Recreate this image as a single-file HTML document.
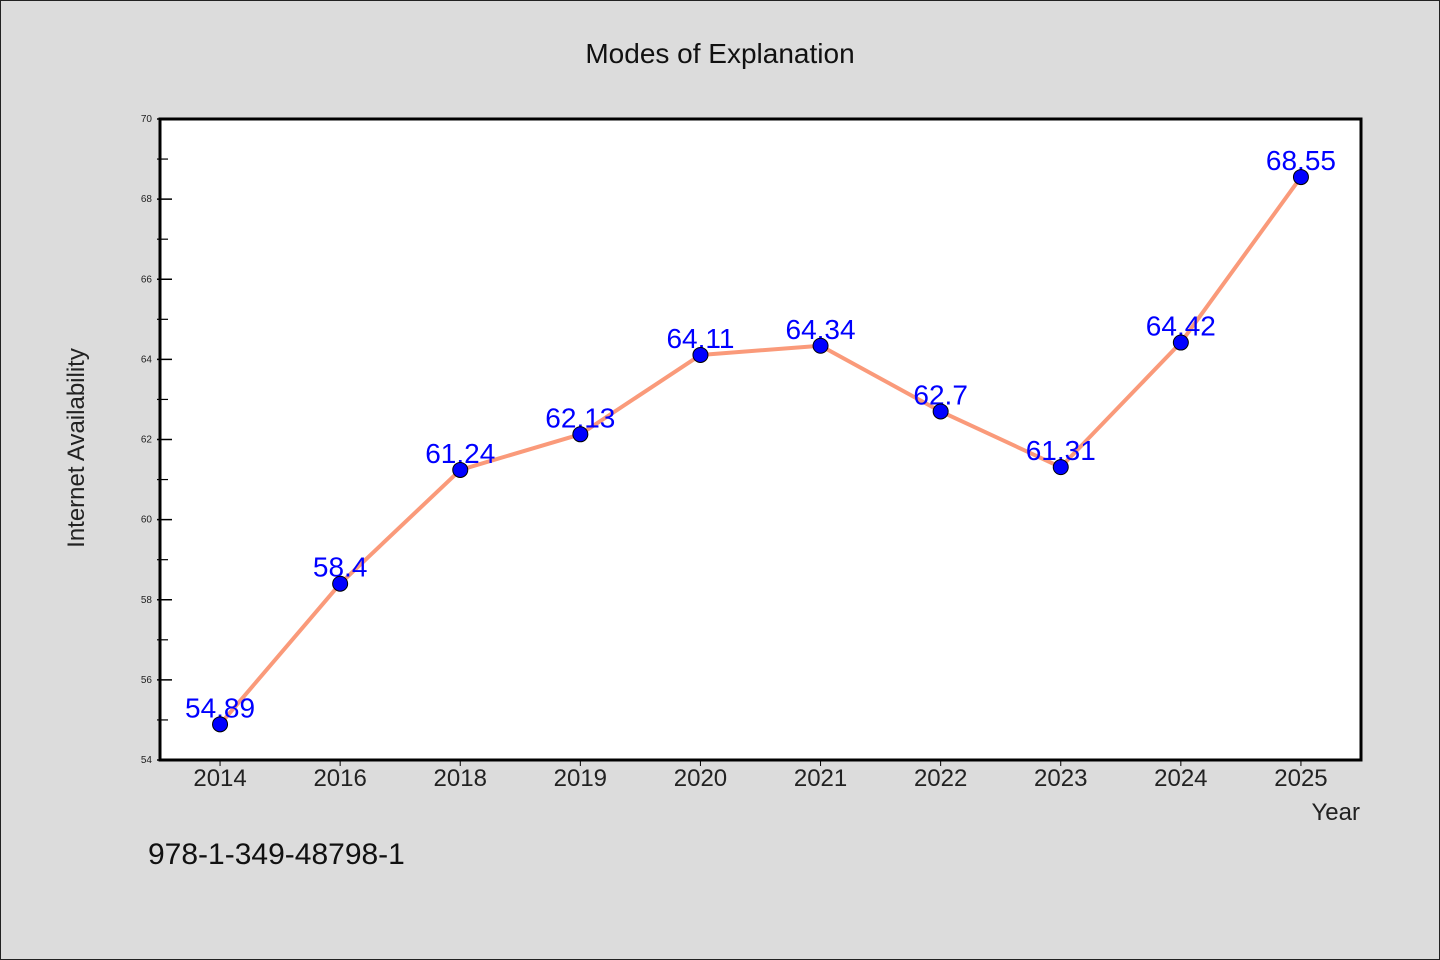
<!DOCTYPE html>
<html><head><meta charset="utf-8"><style>
html,body{margin:0;padding:0;background:#dcdcdc;}
svg{display:block;font-family:"WenQuanYi Zen Hei","Liberation Sans",sans-serif;}
</style></head><body>
<svg id="chart" width="1440" height="960" xmlns="http://www.w3.org/2000/svg">
<rect x="0.5" y="0.5" width="1439" height="959" fill="#dcdcdc" stroke="#222" stroke-width="1"/>
<text x="720" y="63" text-anchor="middle" font-size="28" fill="#111">Modes of Explanation</text>
<rect x="160" y="119" width="1201" height="641" fill="#fff"/>
<g id="ticks"></g>
<g id="series"></g>
<rect x="160" y="119" width="1201" height="641" fill="none" stroke="#000" stroke-width="3"/>
<text transform="translate(84,448) rotate(-90)" text-anchor="middle" font-size="24" fill="#222">Internet Availability</text>
<text x="1360" y="820" text-anchor="end" font-size="24" fill="#222">Year</text>
<text x="148" y="864" font-size="30" fill="#111">978-1-349-48798-1</text>
</svg>
<script>
const categories = ["2014","2016","2018","2019","2020","2021","2022","2023","2024","2025"];
const values = [54.89,58.4,61.24,62.13,64.11,64.34,62.7,61.31,64.42,68.55];
const valueLabels = ["54.89","58.4","61.24","62.13","64.11","64.34","62.7","61.31","64.42","68.55"];
const yTicks = [54,56,58,60,62,64,66,68,70];
const yMin = 54, yMax = 70;
const L=160,R=1361,T=119,B=760;
const ns="http://www.w3.org/2000/svg";
const step=(R-L)/categories.length;
function xs(i){return L+step/2+i*step;}
function ys(v){return B-(v-yMin)/(yMax-yMin)*(B-T);}
function mk(tag,attrs,parent){const e=document.createElementNS(ns,tag);for(const k in attrs)e.setAttribute(k,attrs[k]);parent.appendChild(e);return e;}
const tg=document.getElementById('ticks'), sg=document.getElementById('series');
yTicks.forEach((t,i)=>{
  const y=ys(t);
  const l=mk('line',{x1:L-3,x2:L+12,y1:y,y2:y,stroke:'#000','stroke-width':1.5},tg);
  
  
  const tx=mk('text',{x:L-8,y:y+3,'text-anchor':'end','font-size':10,fill:'#222'},tg);
  tx.textContent=t;
  
  
  if(i<yTicks.length-1){
    const ym=ys(t+(yTicks[1]-yTicks[0])/2);
    const m=mk('line',{x1:L-3,x2:L+8,y1:ym,y2:ym,stroke:'#000','stroke-width':1.2},tg);
    
    
  }
});
categories.forEach((c,i)=>{
  const x=xs(i);
  const l=mk('line',{x1:x,x2:x,y1:B,y2:B+6,stroke:'#000','stroke-width':1},tg);
  
  
  const tx=mk('text',{x:x,y:B+26,'text-anchor':'middle','font-size':24,fill:'#222'},tg);
  tx.textContent=c;
  
  
});
const pts=values.map((v,i)=>xs(i)+','+ys(v)).join(' ');
const line=mk('polyline',{points:pts,fill:'none',stroke:'#fa9a7a','stroke-width':4,'stroke-linejoin':'round'},sg);


values.forEach((v,i)=>{
  const tx=mk('text',{x:xs(i),y:ys(v)-7,'text-anchor':'middle','font-size':28,fill:'#0000ff'},sg);
  tx.textContent=valueLabels[i];
  
  
});
values.forEach((v,i)=>{
  const c=mk('circle',{cx:xs(i),cy:ys(v),r:7.5,fill:'#0000ff',stroke:'#000','stroke-width':1},sg);
  
  
});
</script>
</body></html>
